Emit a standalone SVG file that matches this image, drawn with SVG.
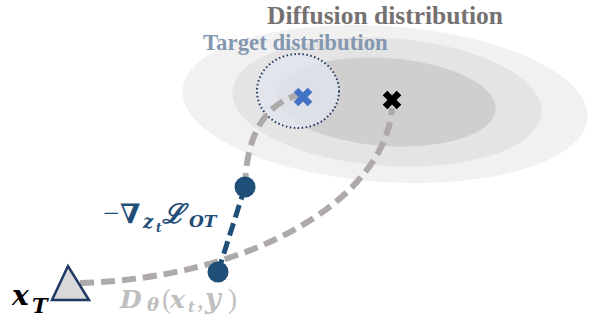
<svg xmlns="http://www.w3.org/2000/svg" width="595" height="323" viewBox="0 0 595 323">
<style>
.title{font-family:"Liberation Serif","Times New Roman",serif;font-weight:bold}
.math{font-family:"DejaVu Serif","Liberation Serif",serif;font-weight:bold;font-style:italic}
.up{font-family:"Liberation Serif",serif;font-style:normal;font-weight:normal}
.gdash{fill:none;stroke:#aeaaaa;stroke-width:6;stroke-dasharray:14 7}
.node{fill:#1f4e79}
</style>
<rect width="595" height="323" fill="#ffffff"/>
<g id="diffusion-distribution">
<ellipse cx="385" cy="104" rx="203" ry="78" transform="rotate(4 385 104)" fill="#f1f1f1"/>
<ellipse cx="387" cy="102" rx="155" ry="64" transform="rotate(4 387 102)" fill="#e4e4e4"/>
<ellipse cx="386" cy="102" rx="110" ry="44" transform="rotate(4 386 102)" fill="#d0cece"/>
<text class="title" x="267" y="24" font-size="25.5" fill="#767171">Diffusion distribution</text>
</g>
<g id="target-distribution">
<ellipse cx="298" cy="91" rx="41" ry="37" fill="#e3e6ef" fill-opacity="0.75" stroke="#1f3864" stroke-width="2" stroke-dasharray="1.5 2.5"/>
<text class="title" x="203" y="50" font-size="22.8" fill="#8497b0">Target distribution</text>
</g>
<g id="connectors">
<path class="gdash" d="M 80 283 C 250 278 385 200 392 108"/>
<path class="gdash" d="M 245 187 C 246 140 262 105 298 95"/>
<path d="M 245 187 L 218 272" fill="none" stroke="#1f4e79" stroke-width="5" stroke-dasharray="13 6"/>
</g>
<g id="blue-x">
<path d="M 296 90 L 310 104 M 310 90 L 296 104" stroke="#4472c4" stroke-width="6.5"/>
</g>
<g id="black-x">
<path d="M 385 93 L 399 107 M 399 93 L 385 107" stroke="#000000" stroke-width="6.5"/>
</g>
<g id="z-upper">
<circle class="node" cx="245" cy="187" r="10.5"/>
</g>
<g id="z-lower">
<circle class="node" cx="218" cy="272" r="10.5"/>
</g>
<g id="x-T">
<polygon points="68,266 52,300 89,300" fill="#d9d9d9" stroke="#1f3864" stroke-width="2.5" stroke-linejoin="miter"/>
<text class="math" x="12" y="305" font-size="28" fill="#000000">x<tspan font-size="21" x="32" y="313">T</tspan></text>
</g>
<g id="grad-label">
<text class="math" x="103" y="223" font-size="27" fill="#1f4e79"><tspan class="up" font-size="29">−</tspan><tspan x="120">∇</tspan><tspan font-size="18" x="143" y="228">z</tspan><tspan font-size="12" x="156" y="232">t</tspan><tspan x="162" y="223">ℒ</tspan><tspan font-size="17" x="189" y="227">OT</tspan></text>
</g>
<g id="d-label">
<text class="math" x="120" y="308" font-size="25" fill="#bfbfbf">D<tspan font-size="18" x="147" y="311">θ</tspan><tspan class="up" font-size="27" x="162" y="308">(</tspan><tspan x="170">x</tspan><tspan font-size="15" x="188" y="312">t</tspan><tspan class="up" font-size="27" x="197" y="308">,</tspan><tspan font-size="27" x="205">y</tspan><tspan class="up" font-size="27" x="228">)</tspan></text>
</g>
</svg>
